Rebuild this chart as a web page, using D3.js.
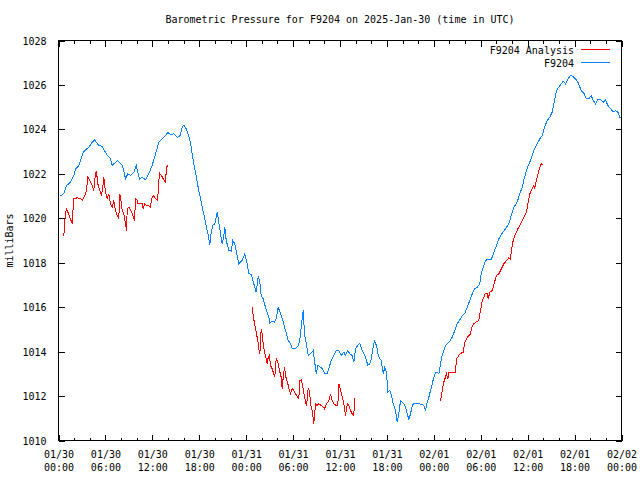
<!DOCTYPE html>
<html>
<head>
<meta charset="utf-8">
<script src="https://cdn.jsdelivr.net/npm/d3@7"></script>
<style>
  html, body { margin: 0; padding: 0; background: #fff; }
  svg { display: block; }
  text { font-family: 'DejaVu Sans Mono', 'Liberation Mono', monospace; font-size: 10px; fill: #000; }
</style>
</head>
<body>
<svg id="chart" width="640" height="480"></svg>
<script>
// ---- Data (hours since 2025-01-30 00:00 UTC, pressure in milliBars) ----
const titleText = "Barometric Pressure for F9204 on 2025-Jan-30 (time in UTC)";
const yLabelText = "milliBars";
const seriesNames = ["F9204 Analysis", "F9204"];
const yTickValues = [1010, 1012, 1014, 1016, 1018, 1020, 1022, 1024, 1026, 1028];

const stationHours = [0.26,0.68,1.02,1.53,1.96,2.17,2.6,2.81,3.16,3.45,3.88,4.31,4.6,4.86,5.15,5.59,5.88,6.23,6.65,6.87,7.29,7.58,7.93,8.15,8.35,8.57,8.86,9.21,9.63,9.94,10.07,10.36,10.7,11.13,11.55,11.98,12.41,12.83,13.26,13.68,13.98,14.32,14.75,15.18,15.51,15.82,16.03,16.33,16.66,16.88,17.1,17.3,17.52,17.74,17.94,18.16,18.38,18.67,18.93,19.15,19.35,19.53,19.73,19.99,20.3,20.5,20.72,20.94,21.14,21.27,21.45,21.78,22.09,22.29,22.55,22.76,23.06,23.49,23.83,24.13,24.34,24.68,24.98,25.28,25.54,25.75,25.92,26.18,26.47,26.6,26.9,27.02,27.33,27.62,27.84,28.1,28.39,28.69,29.03,29.38,29.67,29.93,30.31,30.66,30.86,31.08,31.3,31.46,31.72,31.93,32.23,32.57,32.74,32.96,33.16,33.51,33.73,34.02,34.37,34.62,34.88,35.21,35.55,35.85,36.16,36.49,36.71,37.0,37.26,37.56,37.77,37.98,38.28,38.53,38.75,39.05,39.26,39.56,39.81,39.99,40.25,40.41,40.67,40.89,41.09,41.27,41.53,41.73,41.95,42.11,42.37,42.59,42.81,43.1,43.32,43.52,43.74,43.96,44.16,44.38,44.6,44.8,45.02,45.24,45.44,45.87,46.08,46.51,46.72,46.94,47.15,47.36,47.58,47.79,48.0,48.22,48.43,48.64,48.85,49.07,49.28,49.49,49.79,50.04,50.35,50.68,50.99,51.32,51.63,51.96,52.27,52.6,52.91,53.2,53.55,53.88,54.06,54.32,54.61,55.03,55.34,55.67,56.02,56.31,56.75,57.17,57.59,57.9,58.23,58.66,59.0,59.3,59.6,59.94,60.36,60.79,61.22,61.55,61.86,62.16,62.5,62.83,63.14,63.34,63.69,63.98,64.29,64.55,64.84,65.14,65.48,65.78,66.12,66.42,66.67,66.89,67.18,67.53,67.82,68.13,68.38,68.68,68.97,69.32,69.66,69.96,70.25,70.6,70.94,71.24,71.53,71.79,72.0];
const stationPressure = [1021.0,1021.13,1021.47,1021.62,1021.92,1022.22,1022.37,1022.6,1022.97,1023.08,1023.2,1023.42,1023.53,1023.42,1023.28,1023.23,1023.05,1022.83,1022.68,1022.38,1022.52,1022.6,1022.45,1022.38,1022.15,1021.77,1022.0,1021.93,1022.07,1022.38,1022.15,1021.77,1021.85,1021.73,1022.0,1022.38,1022.9,1023.42,1023.57,1023.72,1023.87,1023.77,1023.8,1023.65,1023.68,1024.1,1024.2,1024.02,1023.72,1023.4,1022.9,1022.45,1022.08,1021.62,1021.25,1020.88,1020.5,1020.05,1019.6,1019.23,1018.82,1019.37,1019.68,1019.75,1020.27,1019.82,1019.3,1018.85,1019.22,1019.6,1019.0,1018.55,1018.52,1019.0,1018.85,1018.47,1017.95,1018.1,1018.4,1017.95,1017.53,1017.45,1017.05,1016.67,1017.38,1017.12,1016.52,1016.37,1016.0,1015.85,1015.55,1015.28,1015.37,1015.33,1015.48,1016.0,1015.7,1015.4,1014.95,1014.5,1014.35,1014.12,1014.12,1014.28,1014.5,1015.25,1015.85,1014.8,1014.28,1013.83,1013.9,1014.05,1013.6,1013.0,1013.38,1013.3,1013.22,1013.03,1013.03,1013.3,1013.6,1013.83,1014.05,1014.05,1013.83,1013.97,1013.83,1014.05,1013.9,1013.83,1013.52,1014.12,1014.28,1014.38,1014.12,1013.9,1013.75,1013.38,1013.45,1013.67,1014.2,1014.47,1014.27,1013.83,1013.67,1013.6,1013.0,1013.3,1013.07,1012.17,1012.25,1012.03,1011.65,1011.35,1010.83,1011.2,1011.8,1011.72,1011.65,1011.5,1011.2,1010.95,1011.2,1011.57,1011.68,1011.68,1011.65,1011.62,1011.57,1011.38,1011.72,1011.95,1012.25,1012.55,1012.85,1013.07,1013.07,1013.0,1013.45,1013.83,1014.05,1014.27,1014.38,1014.45,1014.65,1014.95,1015.25,1015.43,1015.62,1015.73,1016.0,1016.3,1016.6,1016.82,1016.9,1017.05,1017.5,1017.8,1018.1,1018.17,1018.13,1018.47,1018.78,1019.07,1019.33,1019.52,1019.75,1020.13,1020.5,1020.73,1021.1,1021.4,1021.85,1022.25,1022.6,1023.05,1023.35,1023.57,1023.72,1024.1,1024.4,1024.55,1024.78,1025.15,1025.75,1025.9,1026.05,1026.17,1026.05,1026.27,1026.43,1026.38,1026.27,1026.13,1025.9,1025.72,1025.63,1025.37,1025.37,1025.53,1025.3,1025.15,1025.33,1025.33,1025.22,1025.33,1025.08,1024.93,1024.78,1024.85,1024.78,1024.55,1024.5];

const analysisHours1 = [0.68,0.77,0.9,1.02,1.19,1.45,1.75,1.88,1.96,2.39,2.81,3.03,3.24,3.58,3.75,4.0,4.31,4.51,4.73,4.86,5.03,5.28,5.5,5.72,5.79,6.01,6.23,6.43,6.65,6.87,7.07,7.29,7.51,7.71,7.84,8.02,8.15,8.35,8.57,8.7,8.79,8.99,9.21,9.43,9.72,9.85,10.07,10.14,10.4,10.7,10.83,11.0,11.25,11.55,11.77,11.89,12.11,12.41,12.7,12.75,12.92,13.17,13.39,13.68,13.77,13.9,14.03];
const analysisPressure1 = [1019.18,1019.75,1020.2,1020.42,1020.28,1020.05,1019.75,1020.5,1020.88,1020.92,1020.88,1020.8,1020.92,1021.25,1021.85,1021.7,1021.47,1021.25,1022.03,1022.08,1021.55,1021.25,1021.03,1021.55,1021.85,1021.18,1020.88,1021.1,1020.65,1020.5,1020.8,1020.35,1020.13,1019.98,1021.1,1020.72,1020.35,1020.2,1019.75,1019.45,1020.42,1020.5,1020.38,1020.2,1019.9,1020.88,1020.8,1020.65,1020.68,1020.65,1020.42,1020.65,1020.57,1020.57,1020.5,1020.88,1021.03,1020.88,1020.8,1021.33,1022.03,1021.93,1021.77,1021.62,1022.08,1022.38,1022.38];

const analysisHours2 = [24.77,24.9,25.07,25.32,25.49,25.62,25.75,25.92,26.05,26.18,26.35,26.51,26.69,26.82,26.98,27.11,27.33,27.53,27.66,27.84,28.05,28.26,28.48,28.61,28.74,28.9,29.12,29.33,29.54,29.67,29.89,30.09,30.31,30.53,30.73,30.86,31.04,31.3,31.46,31.72,31.93,32.1,32.23,32.45,32.57,32.65,32.87,33.08,33.29,33.6,33.86,34.02,34.28,34.57,34.79,35.0,35.21,35.55,35.72,35.85,36.07,36.29,36.49,36.71,36.93,37.13,37.34,37.56,37.77,37.86];
const analysisPressure2 = [1016.0,1015.63,1015.25,1014.8,1014.5,1014.12,1013.9,1015.02,1014.8,1014.35,1013.98,1013.75,1013.45,1013.75,1013.83,1013.38,1013.22,1013.0,1012.85,1013.67,1013.52,1013.15,1012.85,1012.33,1012.85,1013.3,1012.78,1012.55,1012.25,1012.1,1012.33,1012.25,1012.1,1011.98,1011.88,1012.7,1012.73,1012.33,1011.95,1011.57,1012.33,1012.25,1011.65,1011.35,1010.98,1010.75,1011.65,1011.57,1011.65,1011.57,1011.5,1011.43,1011.65,1011.8,1012.1,1011.8,1011.65,1011.57,1011.57,1012.55,1012.25,1011.95,1011.65,1011.12,1011.65,1011.57,1011.35,1011.2,1011.12,1011.92];

const analysisHours3 = [48.85,49.07,49.28,49.62,49.79,49.92,50.35,50.77,50.9,51.2,51.5,51.76,51.96,52.27,52.69,52.91,53.11,53.33,53.75,53.97,54.19,54.4,54.61,54.83,54.96,55.16,55.47,55.76,56.02,56.31,56.62,56.96,57.31,57.59,57.81,57.94,58.15,58.45,58.74,59.09,59.51,59.85,60.02,60.28,60.58,60.79,60.92,61.01,61.22,61.43,61.73,61.99];
const analysisPressure3 = [1011.77,1012.25,1012.63,1013.0,1012.78,1013.07,1013.07,1013.07,1013.67,1013.83,1013.93,1013.97,1014.42,1014.65,1014.8,1015.17,1015.25,1015.32,1015.4,1015.85,1016.3,1016.45,1016.63,1016.6,1016.38,1016.68,1016.75,1017.12,1017.43,1017.5,1017.72,1017.95,1018.1,1018.22,1018.17,1018.62,1019.0,1019.3,1019.52,1019.75,1020.05,1020.27,1020.65,1021.1,1021.33,1021.47,1021.35,1021.55,1021.85,1022.15,1022.45,1022.38];

// ---- Setup ----
const startMs = Date.UTC(2025, 0, 30, 0, 0);
const toDate = h => new Date(startMs + h * 3600e3);
const zip = (hs, ps) => hs.map((h, i) => ({ t: toDate(h), p: ps[i] }));

const stationData = zip(stationHours, stationPressure);
const analysisSegments = [
  zip(analysisHours1, analysisPressure1),
  zip(analysisHours2, analysisPressure2),
  zip(analysisHours3, analysisPressure3)
];

const L = 58.5, R = 621.5, T = 40.5, B = 440.5;
const svg = d3.select("#chart");

const x = d3.scaleUtc().domain([toDate(0), toDate(72)]).range([L, R]);
const y = d3.scaleLinear().domain([1010, 1028]).range([B, T]);

const majorTicks = d3.utcHour.every(6).range(toDate(0), toDate(72.01));
const minorTicks = d3.utcHour.every(2).range(toDate(0), toDate(72.01));
const fmtDate = d3.utcFormat("%m/%d");
const fmtTime = d3.utcFormat("%H:%M");

// Title
svg.append("text").attr("x", (L + R) / 2).attr("y", 23).attr("text-anchor", "middle").text(titleText);

// Y label
svg.append("text").attr("transform", `translate(13,${(T + B) / 2}) rotate(-90)`)
  .attr("text-anchor", "middle").text(yLabelText);

function styleAxis(g) {
  g.select(".domain").remove();
  g.selectAll("line").attr("stroke", "#000").attr("shape-rendering", "crispEdges");
  g.selectAll("text").style("font-family", "'DejaVu Sans Mono', monospace").style("font-size", "10px").attr("fill", "#000");
}

// Bottom minor + major
svg.append("g").attr("transform", `translate(0,${B})`)
  .call(d3.axisBottom(x).tickValues(minorTicks).tickSize(-3).tickFormat(""))
  .call(styleAxis);
const bottomMajor = svg.append("g").attr("transform", `translate(0,${B})`)
  .call(d3.axisBottom(x).tickValues(majorTicks).tickSize(-6).tickPadding(0).tickFormat(""))
  .call(styleAxis);
bottomMajor.selectAll(".tick").append("text")
  .attr("text-anchor", "middle")
  .style("font-family", "'DejaVu Sans Mono', monospace").style("font-size", "10px").attr("fill", "#000")
  .each(function(d) {
    const t = d3.select(this);
    t.append("tspan").attr("x", 0).attr("y", 17).text(fmtDate(d));
    t.append("tspan").attr("x", 0).attr("y", 30).text(fmtTime(d));
  });

// Top mirror ticks
svg.append("g").attr("transform", `translate(0,${T})`)
  .call(d3.axisTop(x).tickValues(minorTicks).tickSize(-3).tickFormat(""))
  .call(styleAxis);
svg.append("g").attr("transform", `translate(0,${T})`)
  .call(d3.axisTop(x).tickValues(majorTicks).tickSize(-6).tickFormat(""))
  .call(styleAxis);

// Left axis
svg.append("g").attr("transform", `translate(${L},0)`)
  .call(d3.axisLeft(y).tickValues(yTickValues).tickSize(-6).tickPadding(12).tickFormat(d3.format("d")))
  .call(styleAxis)
  .selectAll("text").attr("dy", "0.35em");
// Right mirror
svg.append("g").attr("transform", `translate(${R},0)`)
  .call(d3.axisRight(y).tickValues(yTickValues).tickSize(-6).tickFormat(""))
  .call(styleAxis);

// Data lines
const line = d3.line().x(d => x(d.t)).y(d => y(d.p));

analysisSegments.forEach(seg => {
  svg.append("path").datum(seg).attr("d", line)
    .attr("fill", "none").attr("stroke", "#ff0000").attr("stroke-width", 1)
    .attr("shape-rendering", "crispEdges");
});
svg.append("path").datum(stationData).attr("d", line)
  .attr("fill", "none").attr("stroke", "#0a80ff").attr("stroke-width", 1)
  .attr("shape-rendering", "crispEdges");

// Frame
svg.append("rect").attr("x", L).attr("y", T).attr("width", R - L).attr("height", B - T)
  .attr("fill", "none").attr("stroke", "#000").attr("shape-rendering", "crispEdges");

// Legend
const legendColors = ["#ff0000", "#0a80ff"];
const legend = svg.append("g");
seriesNames.forEach((name, i) => {
  const ly = 50 + i * 13;
  legend.append("text").attr("x", 574).attr("y", ly).attr("dy", "0.35em")
    .attr("text-anchor", "end").text(name);
  legend.append("line").attr("x1", 581).attr("x2", 610).attr("y1", ly - 0.5).attr("y2", ly - 0.5)
    .attr("stroke", legendColors[i]).attr("stroke-width", 1)
    .attr("shape-rendering", "crispEdges");
});
</script>
</body>
</html>
